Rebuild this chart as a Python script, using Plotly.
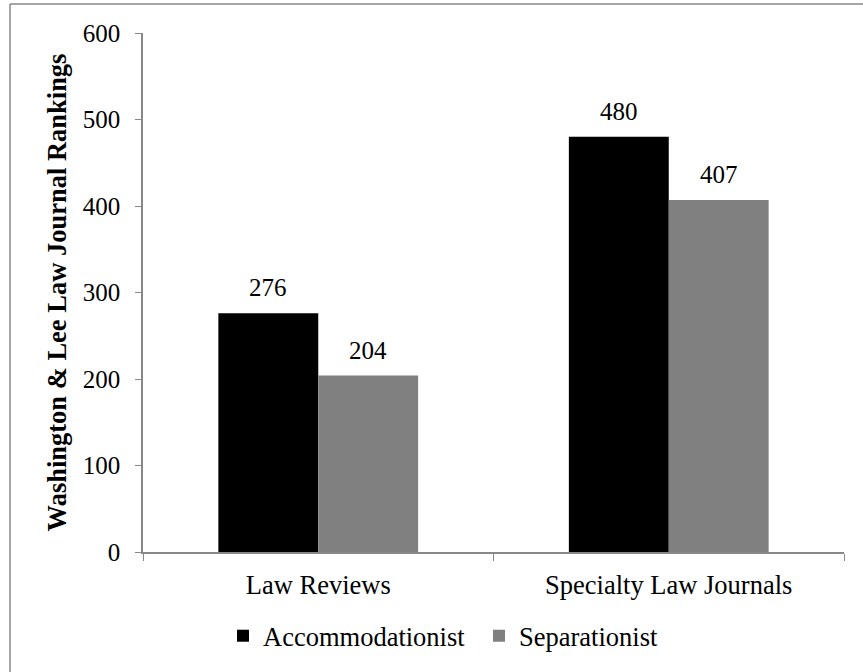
import plotly.graph_objects as go

categories = ["Law Reviews", "Specialty Law Journals"]
accommodationist = [276, 480]
separationist = [204, 407]
y_ticks = [0, 100, 200, 300, 400, 500, 600]

FONT = "Liberation Serif"
W, H = 863, 672
ML, MR, MT, MB = 143, 19, 33, 120
PW, PH = W - ML - MR, H - MT - MB

fig = go.Figure()
fig.add_trace(go.Bar(
    name="Accommodationist", x=categories, y=accommodationist,
    marker=dict(color="#000000", line=dict(width=0)),
))
fig.add_trace(go.Bar(
    name="Separationist", x=categories, y=separationist,
    marker=dict(color="#808080", line=dict(width=0)),
))

annotations = []
for series, shift in ((accommodationist, -50), (separationist, 50)):
    for cat, val in zip(categories, series):
        annotations.append(dict(
            x=cat, y=val, xref="x", yref="y", text=str(val), showarrow=False,
            xshift=shift, yshift=10, yanchor="bottom",
            font=dict(family=FONT, size=25, color="#000000"),
        ))

fig.update_layout(
    width=W, height=H,
    margin=dict(l=ML, r=MR, t=MT, b=MB, autoexpand=False),
    paper_bgcolor="white", plot_bgcolor="white",
    font=dict(family=FONT, size=25, color="#000000"),
    barmode="group", bargap=0.43, bargroupgap=0,
    showlegend=True,
    legend=dict(orientation="h", x=(223 - ML) / PW, xanchor="left", y=-(612 - 552) / PH, yanchor="top",
                font=dict(family=FONT, size=26.5), itemwidth=30, traceorder="normal",
                entrywidth=211, entrywidthmode="pixels",
                bgcolor="rgba(0,0,0,0)"),
    xaxis=dict(showline=True, linecolor="#888888", linewidth=1.5, automargin=False,
               ticks="outside", tickson="boundaries", ticklen=7, tickcolor="#888888",
               tickfont=dict(family=FONT, size=26.5), showgrid=False, ticklabelstandoff=8),
    yaxis=dict(range=[0, 600], tickvals=y_ticks, showline=True, linecolor="#888888", linewidth=1.5,
               ticks="outside", ticklen=6, tickcolor="#888888", showgrid=False, automargin=False,
               zeroline=False, tickfont=dict(family=FONT, size=25), ticklabelstandoff=10,
               title=dict(text="<b>Washington &amp; Lee Law Journal Rankings</b>",
                          font=dict(family=FONT, size=26.5), standoff=8)),
    annotations=annotations,
    shapes=[
        dict(type="line", xref="paper", yref="paper", x0=-(ML - 10) / PW, x1=1 + (MR + 10) / PW,
             y0=1 + (MT - 4) / PH, y1=1 + (MT - 4) / PH, line=dict(color="#888888", width=1.5)),
        dict(type="line", xref="paper", yref="paper", x0=-(ML - 10) / PW, x1=-(ML - 10) / PW,
             y0=1 + (MT - 4) / PH, y1=-(MB + 10) / PH, line=dict(color="#888888", width=1.5)),
    ],
)

fig.write_html("out.html", config={"displayModeBar": False},
               post_script="document.body.style.margin='0';document.body.style.overflow='hidden';")
